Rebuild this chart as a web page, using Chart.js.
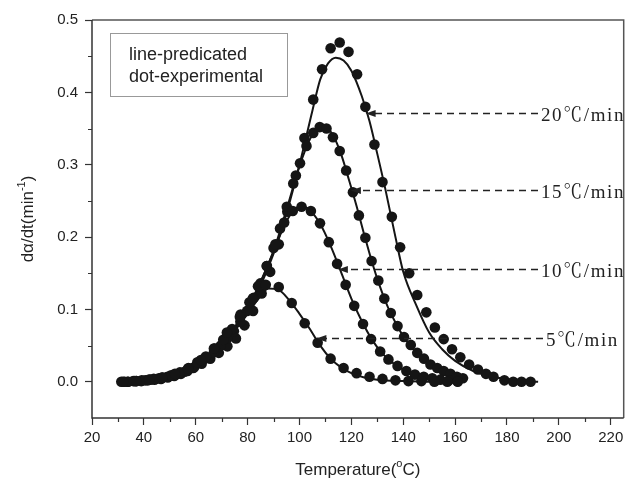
<!DOCTYPE html>
<html>
<head>
<meta charset="utf-8">
<script src="https://cdn.jsdelivr.net/npm/chart.js@4.4.1/dist/chart.umd.min.js"></script>
<style>
  body { margin: 0; background: #fff; }
  canvas { display: block; }
</style>
</head>
<body>
<canvas id="myChart" width="629" height="480"></canvas>
<script>
// axis ticks
const tempTicks = [20, 40, 60, 80, 100, 120, 140, 160, 180, 200, 220];
const rateTicks = [0, 0.1, 0.2, 0.3, 0.4, 0.5];

// experimental dots, one pair of arrays per heating rate
const dotT5 = [32, 37, 42, 47, 52, 57, 62, 67, 72, 77, 82, 87, 92, 97, 102, 107, 112, 117, 122, 127, 132, 137, 142, 147, 152, 157, 161];
const dotV5 = [0, 0.001, 0.003, 0.006, 0.011, 0.018, 0.030, 0.046, 0.068, 0.090, 0.115, 0.134, 0.131, 0.109, 0.081, 0.054, 0.032, 0.019, 0.012, 0.007, 0.004, 0.002, 0.001, 0.001, 0, 0, 0];

const dotT10 = [33.8, 37.1, 40.5, 43.8, 47.2, 50.5, 53.9, 57.2, 60.6, 63.9, 67.3, 70.6, 74, 77.3, 80.7, 84, 87.4, 90.7, 94.1, 97.4, 100.8, 104.4, 107.9, 111.3, 114.5, 117.8, 121.1, 124.5, 127.6, 131.1, 134.3, 137.8, 141.2, 144.5, 147.9, 151.2, 154.3, 157.6, 160.9];
const dotV10 = [0, 0.001, 0.002, 0.004, 0.006, 0.009, 0.013, 0.019, 0.027, 0.035, 0.046, 0.058, 0.073, 0.093, 0.110, 0.132, 0.160, 0.190, 0.220, 0.236, 0.242, 0.236, 0.219, 0.193, 0.163, 0.134, 0.105, 0.080, 0.059, 0.042, 0.031, 0.022, 0.015, 0.010, 0.007, 0.005, 0.003, 0.002, 0.001];

const dotT15 = [31.3, 33.9, 36.4, 39, 41.5, 44.1, 46.6, 49.2, 51.7, 54.3, 56.8, 59.4, 61.9, 64.5, 67, 69.6, 72.1, 74.7, 77.2, 79.8, 82.3, 84.9, 87.4, 90, 92.5, 95.1, 97.6, 100.2, 102.7, 105.3, 107.8, 110.4, 112.9, 115.5, 118, 120.6, 122.9, 125.4, 127.8, 130.4, 132.7, 135.2, 137.8, 140.3, 142.9, 145.4, 148, 150.5, 153.1, 155.6, 158.2, 160.7, 163];
const dotV15 = [0, 0, 0.001, 0.001, 0.002, 0.003, 0.004, 0.006, 0.008, 0.011, 0.015, 0.020, 0.026, 0.033, 0.041, 0.050, 0.060, 0.070, 0.083, 0.098, 0.116, 0.136, 0.160, 0.185, 0.212, 0.242, 0.274, 0.302, 0.326, 0.344, 0.352, 0.350, 0.338, 0.319, 0.292, 0.262, 0.230, 0.199, 0.167, 0.140, 0.115, 0.095, 0.077, 0.062, 0.051, 0.040, 0.032, 0.024, 0.019, 0.015, 0.011, 0.007, 0.005];

const dotT20 = [32.6, 35.9, 39.2, 42.5, 45.8, 49.1, 52.4, 55.7, 59, 62.3, 65.6, 68.9, 72.2, 75.5, 78.8, 82.1, 85.4, 88.7, 92, 95.3, 98.6, 101.9, 105.3, 108.7, 112, 115.5, 118.9, 122.2, 125.4, 128.9, 132, 135.6, 138.8, 142.3, 145.4, 148.9, 152.2, 155.6, 158.8, 162, 165.4, 168.8, 171.9, 174.8, 179, 182.4, 185.6, 189.1];
const dotV20 = [0, 0.001, 0.002, 0.003, 0.005, 0.007, 0.010, 0.014, 0.019, 0.025, 0.032, 0.040, 0.049, 0.060, 0.078, 0.098, 0.122, 0.152, 0.190, 0.235, 0.285, 0.337, 0.390, 0.432, 0.461, 0.469, 0.456, 0.425, 0.380, 0.328, 0.276, 0.228, 0.186, 0.150, 0.120, 0.096, 0.075, 0.059, 0.045, 0.034, 0.024, 0.017, 0.011, 0.007, 0.002, 0, 0, 0];

// predicted curves
const lineT5 = [32, 40, 50, 60, 65, 70, 75, 80, 84, 88, 92, 96, 100, 104, 108, 112, 116, 120, 125, 130, 140, 150, 162];
const lineV5 = [0, 0.002, 0.008, 0.024, 0.036, 0.052, 0.071, 0.094, 0.114, 0.129, 0.127, 0.113, 0.094, 0.073, 0.050, 0.032, 0.020, 0.012, 0.006, 0.003, 0.001, 0, 0];

const lineT10 = [32, 40, 50, 60, 70, 80, 85, 90, 94, 98, 101, 104, 108, 112, 116, 120, 124, 128, 132, 136, 140, 145, 150, 155, 163];
const lineV10 = [0, 0.002, 0.008, 0.023, 0.053, 0.103, 0.138, 0.180, 0.215, 0.238, 0.243, 0.237, 0.218, 0.188, 0.152, 0.115, 0.084, 0.058, 0.039, 0.026, 0.017, 0.010, 0.006, 0.003, 0.001];

const lineT15 = [32, 40, 50, 60, 70, 80, 85, 90, 95, 100, 104, 107, 110, 113, 116, 119, 122, 125, 128, 131, 134, 137, 140, 144, 148, 152, 156, 160, 165];
const lineV15 = [0, 0.002, 0.008, 0.023, 0.052, 0.101, 0.138, 0.181, 0.238, 0.298, 0.335, 0.350, 0.352, 0.340, 0.315, 0.280, 0.243, 0.203, 0.165, 0.132, 0.104, 0.082, 0.063, 0.045, 0.031, 0.021, 0.014, 0.009, 0.005];

const lineT20 = [32, 40, 50, 60, 70, 80, 85, 90, 95, 100, 105, 108, 111, 114, 117, 120, 124, 127, 130, 133, 137, 140, 145, 150, 155, 160, 167, 176, 184, 192];
const lineV20 = [0, 0.002, 0.008, 0.022, 0.050, 0.098, 0.133, 0.177, 0.233, 0.300, 0.375, 0.418, 0.440, 0.448, 0.444, 0.430, 0.395, 0.360, 0.315, 0.268, 0.200, 0.152, 0.106, 0.068, 0.045, 0.029, 0.015, 0.006, 0.002, 0];

// dashed arrow annotations (tip in data units)
const rateLabels = ["20℃/min", "15℃/min", "10℃/min", "5℃/min"];
const arrowTipT = [125.5, 119.8, 114.8, 106.5];
const arrowTipV = [0.371, 0.265, 0.156, 0.061];

function pts(xs, ys) {
  return xs.map((x, i) => ({x: x, y: ys[i]}));
}

function dotSet(xs, ys) {
  return {
    data: pts(xs, ys), showLine: false, order: 1,
    pointRadius: 5.3, pointBackgroundColor: "#151515", pointBorderColor: "#151515", pointBorderWidth: 0
  };
}

function lineSet(xs, ys) {
  return {
    data: pts(xs, ys), showLine: true, order: 2,
    borderColor: "#151515", borderWidth: 2, pointRadius: 0,
    cubicInterpolationMode: "monotone", fill: false
  };
}

const decorPlugin = {
  id: "decor",
  afterDraw(chart) {
    const ctx = chart.ctx;
    const a = chart.chartArea;
    const xs = chart.scales.x, ys = chart.scales.y;
    ctx.save();

    // minor ticks
    ctx.strokeStyle = "#333";
    ctx.lineWidth = 1.2;
    ctx.beginPath();
    for (let t = 30; t < 225; t += 20) {
      const px = Math.round(xs.getPixelForValue(t)) + 0.5;
      ctx.moveTo(px, a.bottom); ctx.lineTo(px, a.bottom + 4);
    }
    for (let v = 0.05; v < 0.5; v += 0.1) {
      const py = Math.round(ys.getPixelForValue(v)) + 0.5;
      ctx.moveTo(a.left, py); ctx.lineTo(a.left - 4, py);
    }
    ctx.stroke();

    // frame
    ctx.strokeStyle = "#555";
    ctx.lineWidth = 1.5;
    ctx.beginPath();
    ctx.moveTo(a.left, a.top); ctx.lineTo(a.right, a.top); ctx.lineTo(a.right, a.bottom);
    ctx.stroke();
    ctx.strokeStyle = "#333";
    ctx.beginPath();
    ctx.moveTo(a.left, a.top); ctx.lineTo(a.left, a.bottom); ctx.lineTo(a.right, a.bottom);
    ctx.stroke();

    // legend box
    ctx.strokeStyle = "#999";
    ctx.lineWidth = 1;
    ctx.strokeRect(110.5, 33.5, 177, 63);
    ctx.fillStyle = "#222";
    ctx.font = "18px 'Liberation Sans', Arial, sans-serif";
    ctx.textBaseline = "alphabetic";
    ctx.textAlign = "left";
    ctx.fillText("line-predicated", 129, 60);
    ctx.fillText("dot-experimental", 129, 82);

    // rate labels with dashed arrows
    ctx.font = "19px 'Liberation Serif', 'Noto Serif CJK SC', serif";
    ctx.letterSpacing = "1.6px";
    for (let i = 0; i < rateLabels.length; i++) {
      const tx = xs.getPixelForValue(arrowTipT[i]);
      const ty = Math.round(ys.getPixelForValue(arrowTipV[i])) + 0.5;
      const textX = i === 3 ? 546 : 541;
      ctx.strokeStyle = "#222";
      ctx.lineWidth = 1.5;
      ctx.setLineDash([7, 5]);
      ctx.beginPath();
      ctx.moveTo(textX - 3, ty); ctx.lineTo(tx + 8, ty);
      ctx.stroke();
      ctx.setLineDash([]);
      ctx.beginPath();
      ctx.moveTo(tx, ty); ctx.lineTo(tx + 10, ty - 3.5); ctx.lineTo(tx + 10, ty + 3.5);
      ctx.closePath();
      ctx.fillStyle = "#222";
      ctx.fill();
      ctx.fillText(rateLabels[i], textX, ty + 7);
    }
    ctx.letterSpacing = "0px";

    // axis titles
    ctx.fillStyle = "#222";
    const big = "17px 'Liberation Sans', Arial, sans-serif";
    const small = "11px 'Liberation Sans', Arial, sans-serif";
    const p1 = "Temperature(", p2 = "o", p3 = "C)";
    ctx.font = big;
    const w1 = ctx.measureText(p1).width, w3 = ctx.measureText(p3).width;
    ctx.font = small;
    const w2 = ctx.measureText(p2).width;
    let x0 = (a.left + a.right) / 2 - (w1 + w2 + w3) / 2;
    const by = 475;
    ctx.font = big;
    ctx.fillText(p1, x0, by);
    ctx.font = small;
    ctx.fillText(p2, x0 + w1, by - 8);
    ctx.font = big;
    ctx.fillText(p3, x0 + w1 + w2, by);

    ctx.translate(33, (a.top + a.bottom) / 2);
    ctx.rotate(-Math.PI / 2);
    const q1 = "dα/dt(min", q2 = "-1", q3 = ")";
    ctx.font = big;
    const v1 = ctx.measureText(q1).width, v3 = ctx.measureText(q3).width;
    ctx.font = small;
    const v2 = ctx.measureText(q2).width;
    x0 = -(v1 + v2 + v3) / 2;
    ctx.font = big;
    ctx.fillText(q1, x0, 0);
    ctx.font = small;
    ctx.fillText(q2, x0 + v1, -8);
    ctx.font = big;
    ctx.fillText(q3, x0 + v1 + v2, 0);

    ctx.restore();
  }
};

new Chart(document.getElementById("myChart").getContext("2d"), {
  type: "scatter",
  data: {
    datasets: [
      dotSet(dotT5, dotV5), dotSet(dotT10, dotV10), dotSet(dotT15, dotV15), dotSet(dotT20, dotV20),
      lineSet(lineT5, lineV5), lineSet(lineT10, lineV10), lineSet(lineT15, lineV15), lineSet(lineT20, lineV20)
    ]
  },
  options: {
    responsive: false,
    animation: false,
    layout: { padding: { top: 20, right: 1, left: 0, bottom: 0 } },
    plugins: {
      legend: { display: false },
      tooltip: { enabled: false }
    },
    scales: {
      x: {
        type: "linear",
        min: 20,
        max: 225,
        afterFit: (s) => { s.height = 62; },
        afterBuildTicks: (s) => { s.ticks = tempTicks.map(v => ({value: v})); },
        border: { display: false },
        grid: { drawOnChartArea: false, drawTicks: true, tickLength: 7, tickColor: "#333", tickWidth: 1.2 },
        ticks: { color: "#222", padding: 4, font: { family: "'Liberation Sans', Arial, sans-serif", size: 15 }, maxRotation: 0 }
      },
      y: {
        type: "linear",
        min: -0.05,
        max: 0.5,
        afterFit: (s) => { s.width = 92; },
        afterBuildTicks: (s) => { s.ticks = rateTicks.map(v => ({value: v})); },
        border: { display: false },
        grid: { drawOnChartArea: false, drawTicks: true, tickLength: 7, tickColor: "#333", tickWidth: 1.2 },
        ticks: { color: "#222", padding: 7, font: { family: "'Liberation Sans', Arial, sans-serif", size: 15 },
          callback: (v) => Number(v).toFixed(1) }
      }
    }
  },
  plugins: [decorPlugin]
});
</script>
</body>
</html>
